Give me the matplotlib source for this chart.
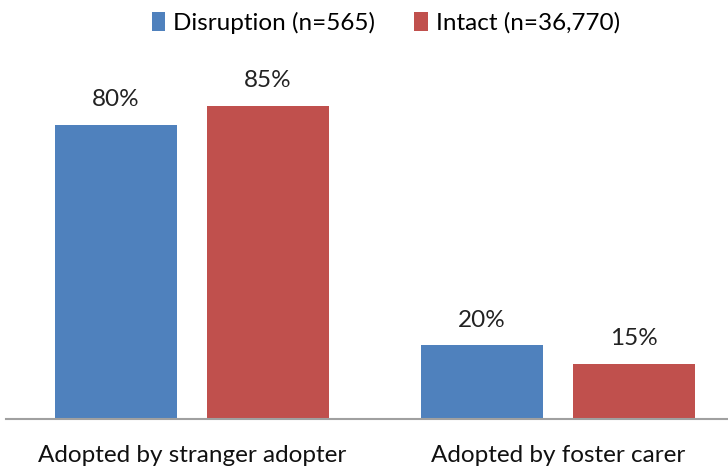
import matplotlib
matplotlib.use("Agg")
import matplotlib.pyplot as plt
import numpy as np

categories = ["Adopted by stranger adopter", "Adopted by foster carer"]
series_names = ["Disruption (n=565)", "Intact (n=36,770)"]
disruption = [80, 20]
intact = [85, 15]
colors = ["#4F81BD", "#C0504D"]

plt.rcParams["font.family"] = ["Lato", "DejaVu Sans"]

W, H = 728, 466
fig = plt.figure(figsize=(W / 100, H / 100), dpi=100)
# axes placed in pixel coordinates
left, right, bottom, top = 6, 728, 51, 419
ax = fig.add_axes([left / W, (H - top) / H, (right - left) / W, (top - bottom) / H])

x = np.arange(len(categories))
width = 0.333
offset = 0.2077
for vals, name, col, off in [(disruption, series_names[0], colors[0], -offset),
                              (intact, series_names[1], colors[1], offset)]:
    bars = ax.bar(x + off, vals, width, color=col, label=name)
    for b, v in zip(bars, vals):
        ax.text(b.get_x() + b.get_width() / 2, v + 4, f"{v}%",
                ha="center", va="bottom", fontsize=17.5, color="#222222")

ax.set_xlim(-0.508, 1.464)
ax.set_ylim(0, 100)
ax.set_yticks([])
ax.set_xticks(x)
ax.set_xticklabels(categories, fontsize=17.5, color="#111111")
ax.tick_params(axis="x", length=0, pad=19)
for s in ["top", "right", "left"]:
    ax.spines[s].set_visible(False)
ax.spines["bottom"].set_color("#A0A0A0")
ax.spines["bottom"].set_linewidth(1.5)

fig.legend(loc="center", bbox_to_anchor=(386 / W, 1 - 23 / H), ncol=2,
           frameon=False, fontsize=17.5, handlelength=0.55, handleheight=0.8,
           handletextpad=0.35, columnspacing=1.6)

fig.savefig("out.png", dpi=100)
